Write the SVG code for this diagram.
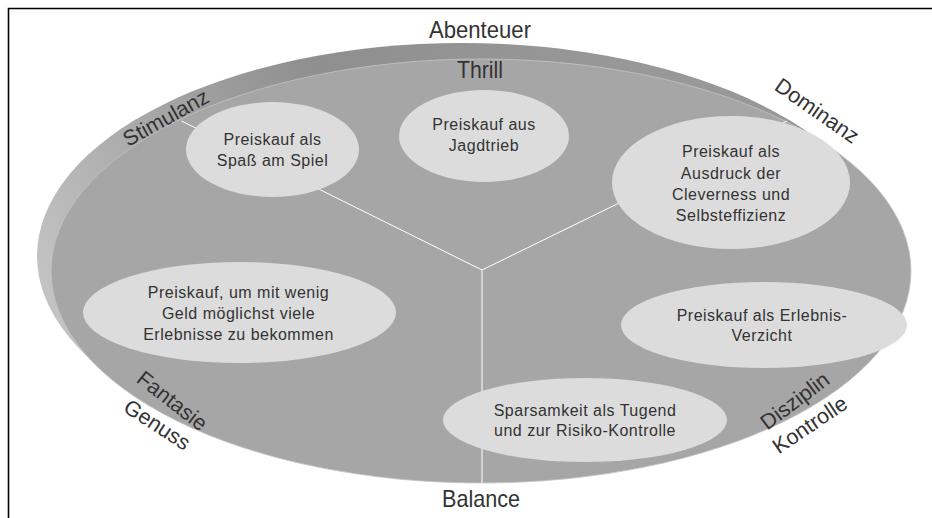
<svg xmlns="http://www.w3.org/2000/svg" width="932" height="518" viewBox="0 0 932 518">
<defs>
<linearGradient id="rimGrad" gradientUnits="userSpaceOnUse" x1="40" y1="320" x2="620" y2="40">
<stop offset="0" stop-color="#c6c6c6"/>
<stop offset="0.25" stop-color="#ababab"/>
<stop offset="0.55" stop-color="#8f8f8f"/>
<stop offset="1" stop-color="#989898"/>
</linearGradient>
<style>
.node{fill:#dcdcdc;stroke:none}
.nt{font-family:"Liberation Sans",Arial,sans-serif;font-size:16px;letter-spacing:0.5px;fill:#333333;text-anchor:middle}
.cond{font-family:"Liberation Sans",Arial,sans-serif;font-size:24px;fill:#333333;text-anchor:middle}
.rim{font-family:"Liberation Sans",Arial,sans-serif;font-size:21.5px;fill:#333333;text-anchor:middle;dominant-baseline:central}
.conn{stroke:#ffffff;stroke-width:1;fill:none}
</style>
</defs>
<rect width="932" height="518" fill="#ffffff"/>
<path d="M8.5,518 V8.5 H932" fill="none" stroke="#000000" stroke-width="1.6"/>
<g id="disk">
<ellipse cx="462" cy="256" rx="425" ry="213" fill="url(#rimGrad)"/>
<ellipse cx="481" cy="271" rx="430" ry="212" fill="#a6a6a6" stroke="#c4c4c4" stroke-width="0.8"/>
</g>
<g id="connectors">
<line class="conn" x1="181.5" y1="121" x2="482" y2="270"/>
<line class="conn" x1="787" y1="121" x2="482" y2="270"/>
<line class="conn" x1="482" y1="270" x2="482" y2="483"/>
</g>
<g id="node-spass">
<ellipse class="node" cx="272.5" cy="149.5" rx="86.5" ry="47.5"/>
<text class="nt" x="272.5" y="145">Preiskauf als</text>
<text class="nt" x="272.5" y="166">Spaß am Spiel</text>
</g>
<g id="node-jagdtrieb">
<ellipse class="node" cx="484" cy="136" rx="85" ry="46"/>
<text class="nt" x="484" y="130">Preiskauf aus</text>
<text class="nt" x="484" y="151">Jagdtrieb</text>
</g>
<g id="node-cleverness">
<ellipse class="node" cx="731" cy="182.5" rx="119" ry="66.5"/>
<text class="nt" x="731" y="157">Preiskauf als</text>
<text class="nt" x="731" y="179">Ausdruck der</text>
<text class="nt" x="731" y="200">Cleverness und</text>
<text class="nt" x="731" y="221">Selbsteffizienz</text>
</g>
<g id="node-erlebnisse">
<ellipse class="node" cx="239.5" cy="312.5" rx="156.5" ry="50.5"/>
<text class="nt" x="238.5" y="298">Preiskauf, um mit wenig</text>
<text class="nt" x="238.5" y="319">Geld möglichst viele</text>
<text class="nt" x="238.5" y="340">Erlebnisse zu bekommen</text>
</g>
<g id="node-verzicht">
<ellipse class="node" cx="764" cy="325" rx="143" ry="43"/>
<text class="nt" x="762" y="320.5">Preiskauf als Erlebnis-</text>
<text class="nt" x="762" y="341">Verzicht</text>
</g>
<g id="node-sparsamkeit">
<ellipse class="node" cx="585" cy="420" rx="142" ry="42"/>
<text class="nt" x="585" y="415.5">Sparsamkeit als Tugend</text>
<text class="nt" x="585" y="435.5">und zur Risiko-Kontrolle</text>
</g>
<g id="labels">
<text class="cond" x="480" y="38" textLength="102" lengthAdjust="spacingAndGlyphs">Abenteuer</text>
<text class="cond" x="480" y="78" textLength="46" lengthAdjust="spacingAndGlyphs">Thrill</text>
<text class="cond" x="481" y="507" textLength="78" lengthAdjust="spacingAndGlyphs">Balance</text>
<text class="rim" transform="translate(166,118) rotate(-29)">Stimulanz</text>
<text class="rim" transform="translate(817,111) rotate(35)">Dominanz</text>
<text class="rim" transform="translate(172,401) rotate(38)">Fantasie</text>
<text class="rim" transform="translate(157,425) rotate(33)">Genuss</text>
<text class="rim" transform="translate(795,401) rotate(-37)">Disziplin</text>
<text class="rim" transform="translate(810,425) rotate(-34)">Kontrolle</text>
</g>
</svg>
